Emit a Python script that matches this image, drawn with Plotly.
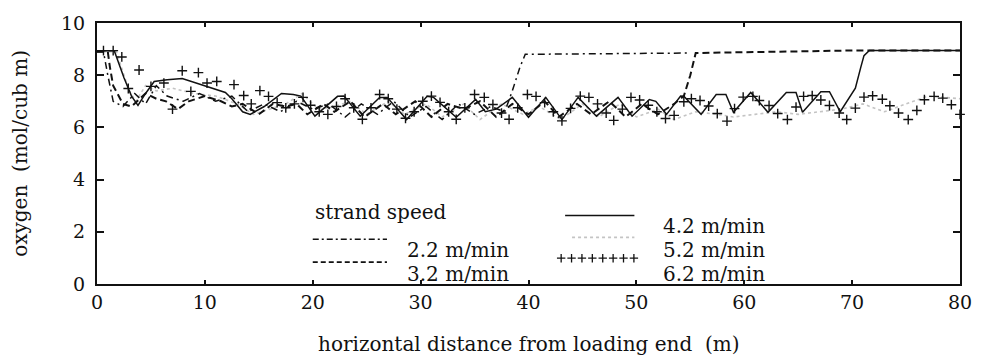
import plotly.graph_objects as go

# Oxygen concentration along the strand for five strand speeds
# x: horizontal distance from loading end (m), y: oxygen (mol/cub m)

x_22 = [0, 0.6, 1.0, 1.5, 2.4, 3.5, 4.5, 5.5, 6.5, 8.0, 9.5, 11.0, 12.5, 14.0, 15.5, 17.0,
        18.5, 20.0, 21.5, 23.0, 24.5, 26.0, 27.5, 29.0, 30.5, 32.0, 33.5, 35.0, 36.5, 37.8,
        38.5, 39.2, 39.7, 47.0, 55.0]
y_22 = [8.9, 8.9, 8.0, 7.0, 6.8, 7.3, 6.9, 7.6, 7.2, 7.0, 7.3, 7.0, 7.2, 6.6, 6.9, 6.6,
        7.0, 6.7, 6.9, 6.4, 6.9, 6.5, 7.0, 6.4, 6.8, 6.3, 6.9, 6.5, 6.8, 6.6,
        7.4, 8.3, 8.8, 8.82, 8.85]

x_32 = [0, 1.0, 1.2, 1.5, 2.4, 3.2, 4.5, 5.5, 6.4, 7.5, 8.5, 10.0, 11.5, 12.5, 13.5, 15.0,
        16.3, 17.5, 18.5, 19.5, 21.0, 22.0, 23.5, 24.8, 26.5, 27.7, 29.5, 31.0, 32.5, 34.0,
        35.5, 37.0, 38.5, 40.0, 41.5, 42.8, 44.5, 45.8, 47.5, 49.0, 50.5, 52.0, 53.5, 54.4,
        55.0, 55.5, 63.0, 70.5, 80.0]
y_32 = [8.9, 8.9, 8.3, 7.6, 6.9, 6.8, 7.3, 7.1, 7.0, 6.7, 7.0, 7.2, 7.0, 6.8, 6.9, 6.5,
        6.9, 6.8, 6.9, 6.5, 6.9, 6.6, 7.0, 6.4, 6.9, 6.5, 7.0, 6.4, 6.9, 6.7,
        7.0, 6.4, 6.9, 6.5, 7.0, 6.4, 6.9, 6.5, 7.0, 6.4, 6.9, 6.5, 6.9, 7.2,
        8.0, 8.85, 8.9, 8.95, 8.95]

x_42 = [0, 1.6, 2.5, 3.2, 3.8, 4.5, 5.3, 6.5, 7.9, 10.0, 11.9, 12.5, 13.5, 14.2, 15.5, 17.1,
        18.2, 18.9, 20.2, 22.3, 22.9, 24.4, 26.2, 26.9, 28.7, 30.6, 31.2, 33.3, 35.1, 36.0,
        37.0, 38.5, 40.0, 41.6, 43.1, 44.6, 46.3, 48.3, 49.6, 51.2, 51.8, 52.8, 54.1, 54.4,
        56.0, 57.4, 58.3, 59.0, 60.6, 62.2, 63.9, 64.8, 65.4, 67.1, 67.9, 68.9, 70.3, 70.8,
        71.1, 71.6, 80.0]
y_42 = [8.94, 8.94, 7.9, 7.2, 6.84, 7.3, 7.76, 7.83, 7.87, 7.6, 7.34, 7.1, 6.6, 6.5, 6.8, 7.3,
        7.26, 7.2, 6.43, 7.19, 7.2, 6.43, 7.15, 7.15, 6.3, 7.19, 7.15, 6.39, 7.07, 6.6,
        6.7, 7.15, 6.39, 7.15, 6.3, 7.15, 6.43, 7.15, 6.43, 7.07, 7.0, 6.5, 7.2, 7.19,
        6.5, 7.26, 7.26, 6.58, 7.34, 6.58, 7.34, 7.34, 6.58, 7.37, 7.37, 6.6, 7.5, 8.3,
        8.75, 8.95, 8.95]

x_52 = [0, 1.8, 2.5, 3.0, 3.6, 4.5, 5.5, 7.0, 9.0, 11.0, 13.0, 14.5, 16.0, 17.5, 19.0, 20.5,
        22.0, 23.5, 25.0, 27.0, 28.5, 30.5, 32.0, 34.0, 35.5, 37.5, 39.5, 41.0, 43.0, 45.0,
        46.5, 48.5, 50.0, 52.0, 53.5, 55.5, 57.5, 59.0, 61.0, 63.0, 65.0, 67.0, 69.0, 71.0,
        73.0, 75.0, 77.0, 80.0]
y_52 = [8.9, 8.9, 8.0, 7.4, 7.0, 7.6, 7.4, 7.5, 7.3, 7.2, 6.9, 6.5, 6.7, 6.9, 7.3, 6.7,
        6.8, 7.0, 6.5, 7.0, 6.5, 6.9, 6.4, 6.9, 6.3, 6.9, 6.5, 6.8, 6.3, 6.9,
        6.4, 6.9, 6.4, 6.7, 6.3, 6.6, 6.5, 6.4, 6.5, 6.6, 6.5, 6.6, 6.7, 6.9,
        6.6, 6.9, 7.2, 7.1]

x_62 = [0.6, 1.5, 2.3, 2.9, 3.9, 5.0, 6.2, 7.0, 7.9, 8.7, 9.4, 10.2, 11.1, 12.7, 13.6, 14.3,
        15.1, 15.9, 16.7, 17.5, 18.3, 19.1, 19.8, 20.6, 21.4, 22.2, 23.0, 23.8, 24.6, 25.4,
        26.2, 27.0, 27.8, 28.6, 29.4, 30.2, 31.0, 31.8, 32.6, 33.3, 34.1, 35.0, 35.9, 36.7,
        37.5, 38.2, 39.0, 39.9, 40.7, 41.5, 42.3, 43.1, 43.9, 44.8, 45.6, 46.4, 47.2, 47.9,
        48.7, 49.5, 50.3, 51.1, 51.9, 52.7, 53.5, 54.4, 55.1, 55.9, 56.7, 57.5, 58.4, 59.1,
        59.9, 60.8, 61.4, 62.3, 63.1, 64.0, 64.8, 65.5, 66.3, 67.1, 67.9, 68.8, 69.5, 70.3,
        71.1, 71.9, 72.8, 73.5, 74.3, 75.2, 76.0, 76.7, 77.6, 78.4, 79.2, 80.0]
y_62 = [8.94, 8.94, 8.7, 7.49, 8.2, 7.57, 7.7, 6.7, 8.17, 7.38, 8.1, 7.7, 7.76, 7.64, 7.22, 6.9,
        7.41, 7.19, 6.95, 6.75, 6.9, 7.15, 6.85, 6.6, 6.5, 6.8, 7.1, 6.75, 6.31, 6.75,
        7.26, 7.1, 6.7, 6.35, 6.6, 7.0, 7.2, 6.96, 6.6, 6.31, 6.75, 7.26, 7.15, 6.88,
        6.55, 6.31, 6.75, 7.26, 7.19, 6.95, 6.6, 6.25, 6.73, 7.2, 7.15, 6.9, 6.55, 6.27,
        6.7, 7.15, 7.05, 6.85, 6.6, 6.34, 6.46, 6.98, 7.1, 7.03, 6.82, 6.53, 6.24, 6.72,
        7.16, 7.19, 7.03, 6.84, 6.53, 6.3, 6.78, 7.19, 7.22, 7.05, 6.84, 6.55, 6.3, 6.74,
        7.16, 7.21, 7.08, 6.83, 6.55, 6.3, 6.65, 7.06, 7.19, 7.12, 6.87, 6.5]

x_ticks = [0, 10, 20, 30, 40, 50, 60, 70, 80]
y_ticks = [0, 2, 4, 6, 8, 10]

legend_title = "strand speed"
labels = ["2.2 m/min", "3.2 m/min", "4.2 m/min", "5.2 m/min", "6.2 m/min"]

FONT = "DejaVu Serif"
INK = "#111111"
GREY = "#c4c4c4"

fig = go.Figure()

fig.add_trace(go.Scatter(x=x_52, y=y_52, mode="lines",
                         line=dict(color=GREY, width=1.6, dash="dot")))
fig.add_trace(go.Scatter(x=x_22, y=y_22, mode="lines",
                         line=dict(color=INK, width=1.5, dash="7px,4px,2px,4px")))
fig.add_trace(go.Scatter(x=x_32, y=y_32, mode="lines",
                         line=dict(color=INK, width=2, dash="7px,4px")))
fig.add_trace(go.Scatter(x=x_42, y=y_42, mode="lines",
                         line=dict(color=INK, width=1.5)))
fig.add_trace(go.Scatter(x=x_62, y=y_62, mode="markers", cliponaxis=False,
                         marker=dict(symbol="cross-thin", size=7,
                                     line=dict(color=INK, width=1.4))))

# --- legend drawn by hand: two columns under the "strand speed" heading ---
# plot area spans pixels x 97..969, y 21..284
def px(xp):
    return (xp - 97) / 872.0

def py(yp):
    return (284 - yp) / 263.0

samples = [
    (315, 390, 239, dict(color=INK, width=1.5, dash="6px,3px,2px,3px")),
    (315, 390, 262, dict(color=INK, width=1.8, dash="5px,3px")),
    (570, 640, 215, dict(color=INK, width=1.5)),
    (577, 640, 237, dict(color=GREY, width=1.6, dash="dot")),
]
for x0, x1, yy, ln in samples:
    fig.add_shape(type="line", xref="paper", yref="paper",
                  x0=px(x0), x1=px(x1), y0=py(yy), y1=py(yy), line=ln)

# row of crosses for the 6.2 m/min key
cross_x = [px(566 + 10.5 * i) for i in range(8)]
fig.add_trace(go.Scatter(x=cross_x, y=[py(258)] * 8, mode="markers",
                         xaxis="x2", yaxis="y2", cliponaxis=False,
                         marker=dict(symbol="cross-thin", size=6,
                                     line=dict(color=INK, width=1.3))))

label_pos = [(408, 250), (408, 274), (667, 226), (667, 250), (667, 274)]
for txt, (lx, ly) in zip(labels, label_pos):
    fig.add_annotation(text=txt, xref="paper", yref="paper", x=px(lx), y=py(ly),
                       xanchor="left", yanchor="middle", showarrow=False,
                       font=dict(family=FONT, size=20, color=INK))
fig.add_annotation(text=legend_title, xref="paper", yref="paper", x=px(315), y=py(211),
                   xanchor="left", yanchor="middle", showarrow=False,
                   font=dict(family=FONT, size=20, color=INK))

# axis titles
fig.add_annotation(text="horizontal distance from loading end\u00a0\u00a0(m)",
                   xref="paper", yref="paper", x=px(533), y=py(344),
                   xanchor="center", yanchor="middle", showarrow=False,
                   font=dict(family=FONT, size=20, color=INK))
fig.add_annotation(text="oxygen\u00a0\u00a0(mol/cub m)", textangle=-90,
                   xref="paper", yref="paper", x=px(19), y=py(152),
                   xanchor="center", yanchor="middle", showarrow=False,
                   font=dict(family=FONT, size=20, color=INK))

axis_common = dict(showline=True, linecolor=INK, linewidth=2, mirror="ticks",
                   ticks="inside", tickcolor=INK, showgrid=False, zeroline=False,
                   tickfont=dict(family=FONT, size=19, color=INK))

fig.update_layout(
    width=984, height=355,
    margin=dict(l=97, r=15, t=21, b=71),
    paper_bgcolor="white", plot_bgcolor="white",
    showlegend=False,
    xaxis=dict(range=[0, 80], tickvals=x_ticks, ticklen=4, tickwidth=1.5,
               ticklabelstandoff=0, **axis_common),
    yaxis=dict(range=[0, 10], tickvals=y_ticks, ticklen=7, tickwidth=1.5,
               ticklabelstandoff=6, **axis_common),
    xaxis2=dict(range=[0, 1], overlaying="x", visible=False),
    yaxis2=dict(range=[0, 1], overlaying="y", visible=False),
)

fig.write_html("out.html")
